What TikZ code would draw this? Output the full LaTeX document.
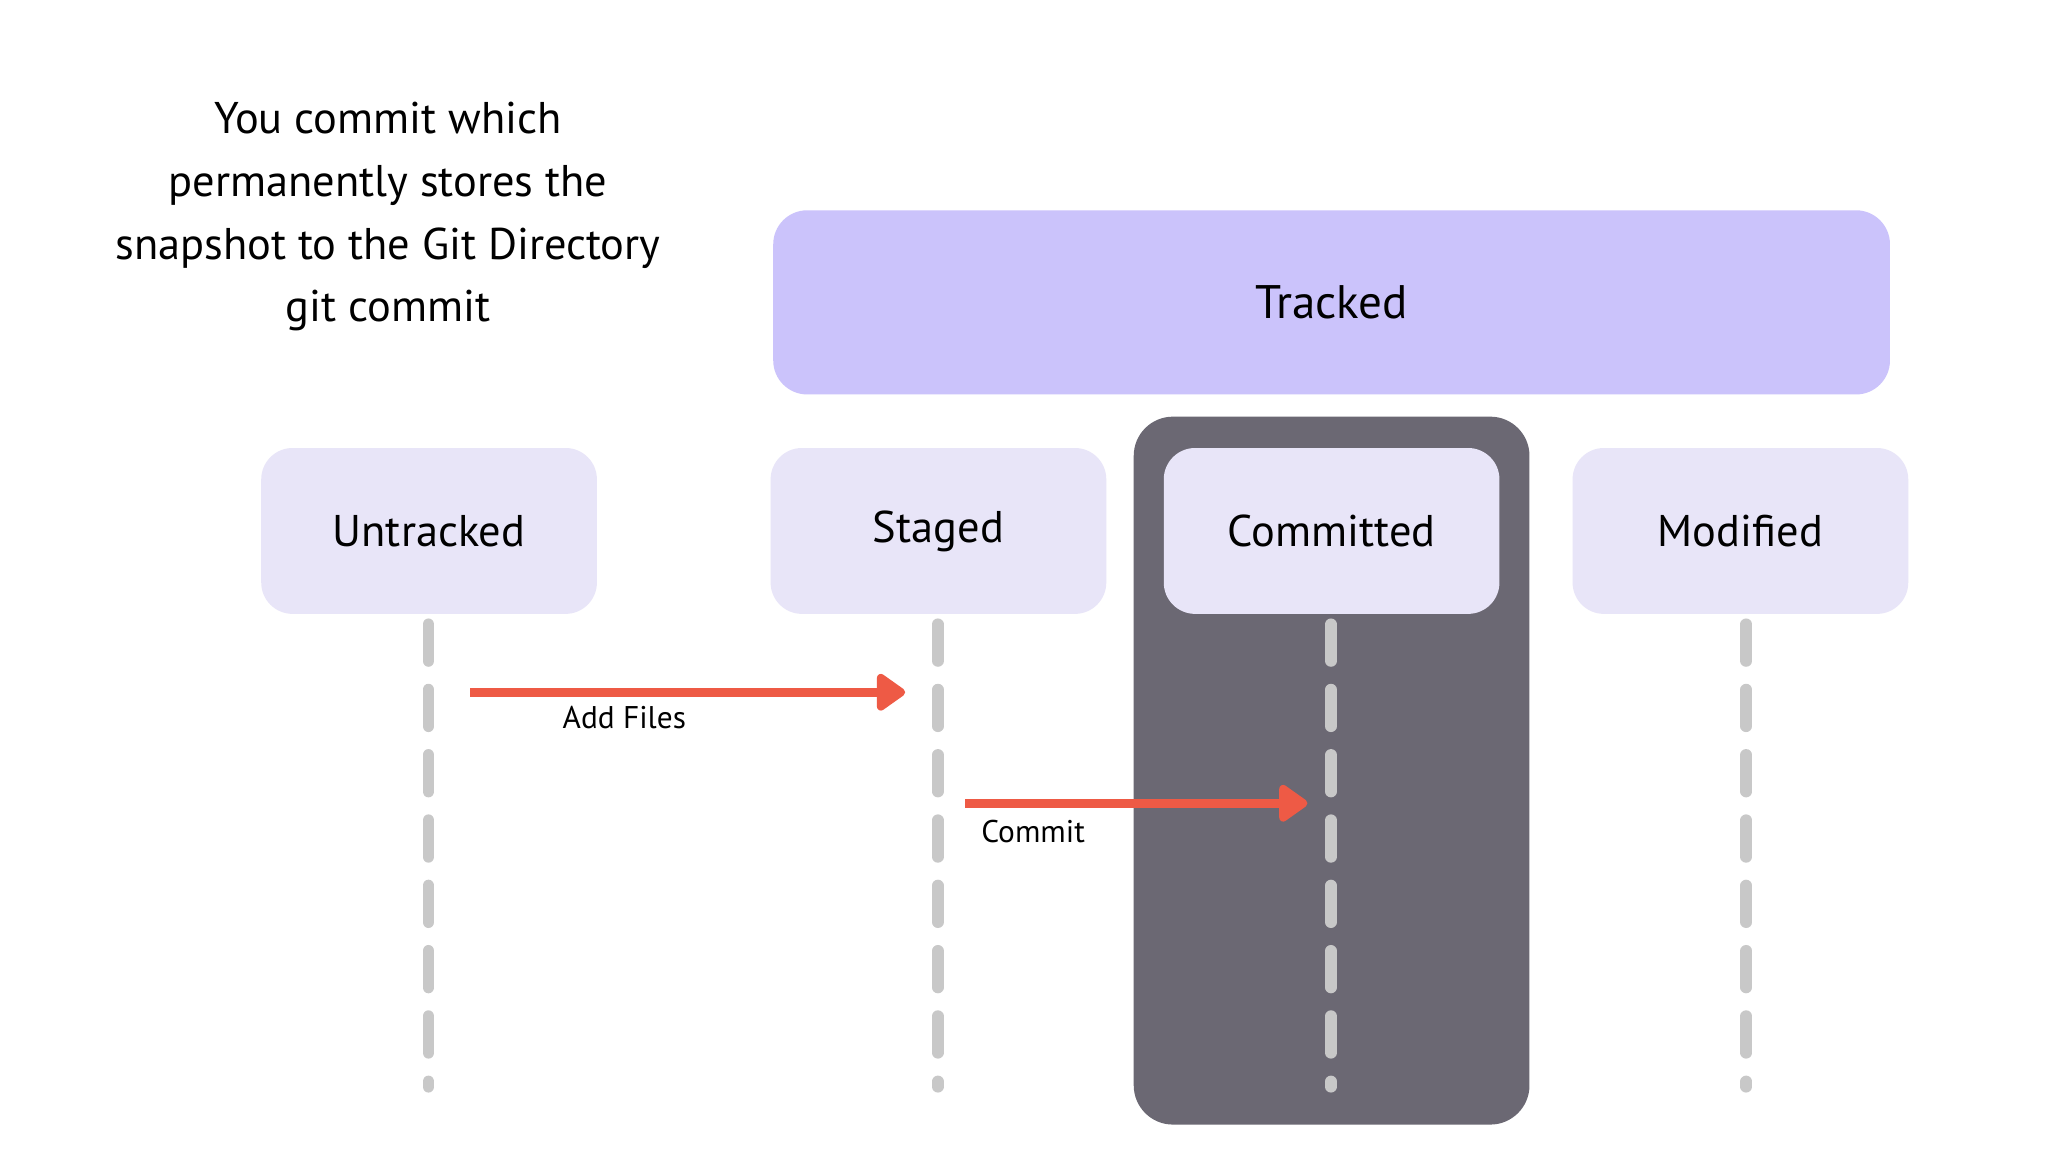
\documentclass[tikz,border=0pt]{standalone}
\usepackage{fontspec}
\setmainfont{PT Sans}
\usetikzlibrary{arrows.meta}
\definecolor{trk}{HTML}{CBC3FB}
\definecolor{box}{HTML}{E8E5F8}
\definecolor{dark}{HTML}{6B6873}
\definecolor{dashc}{HTML}{C8C8C8}
\definecolor{arr}{HTML}{EE5A45}
\begin{document}
\begin{tikzpicture}[x=0.5pt,y=-0.5pt,
  state/.style={draw=none,fill=box,rounded corners=12pt,minimum width=128.5pt,minimum height=63.5pt,font=\fontsize{17}{20}\selectfont},
  life/.style={draw=dashc,line width=4.5pt,line cap=round,dash pattern=on 14pt off 11pt},
  flow/.style={draw=arr,fill=arr,line width=3.5pt,-{Triangle[length=12pt,width=16pt,round]}},
  lbl/.style={font=\fontsize{12}{14}\selectfont}]
\useasboundingbox (0,0) rectangle (1568,882);
\fill[white] (0,0) rectangle (1568,882);
\node[fill=trk,rounded corners=13pt,minimum width=427.5pt,minimum height=70.5pt,font=\fontsize{18}{22}\selectfont] (tracked) at (1019.5,231.5) {Tracked};
\node[fill=dark,rounded corners=15pt,minimum width=151.5pt,minimum height=271pt] (dk) at (1019.5,590) {};
\node[state] (u) at (328.5,406.5) {Untracked};
\node[state] (s) at (718.5,406.5) {Staged};
\node[state] (c) at (1019.5,406.5) {Committed};
\node[state] (m) at (1332.5,406.5) {Modified};
\coordinate (ue) at (328,832); \coordinate (se) at (718,832);
\coordinate (ce) at (1019,832); \coordinate (me) at (1337,832);
\draw[life] (328,478) -- (ue);
\draw[life] (718,478) -- (se);
\draw[life] (1019,478) -- (ce);
\draw[life] (1337,478) -- (me);
\coordinate (a1s) at (360,530); \coordinate (a1e) at (693,530);
\coordinate (a2s) at (739,615); \coordinate (a2e) at (1001,615);
\draw[flow] (a1s) -- (a1e);
\draw[flow] (a2s) -- (a2e);
\node[lbl] (l1) at (478,549) {Add Files};
\node[lbl] (l2) at (791,637) {Commit};
\node[align=center,font=\fontsize{17}{24}\selectfont] (t) at (297,166) {You commit which\\permanently stores the\\snapshot to the Git Directory\\git commit};
\end{tikzpicture}
\end{document}
